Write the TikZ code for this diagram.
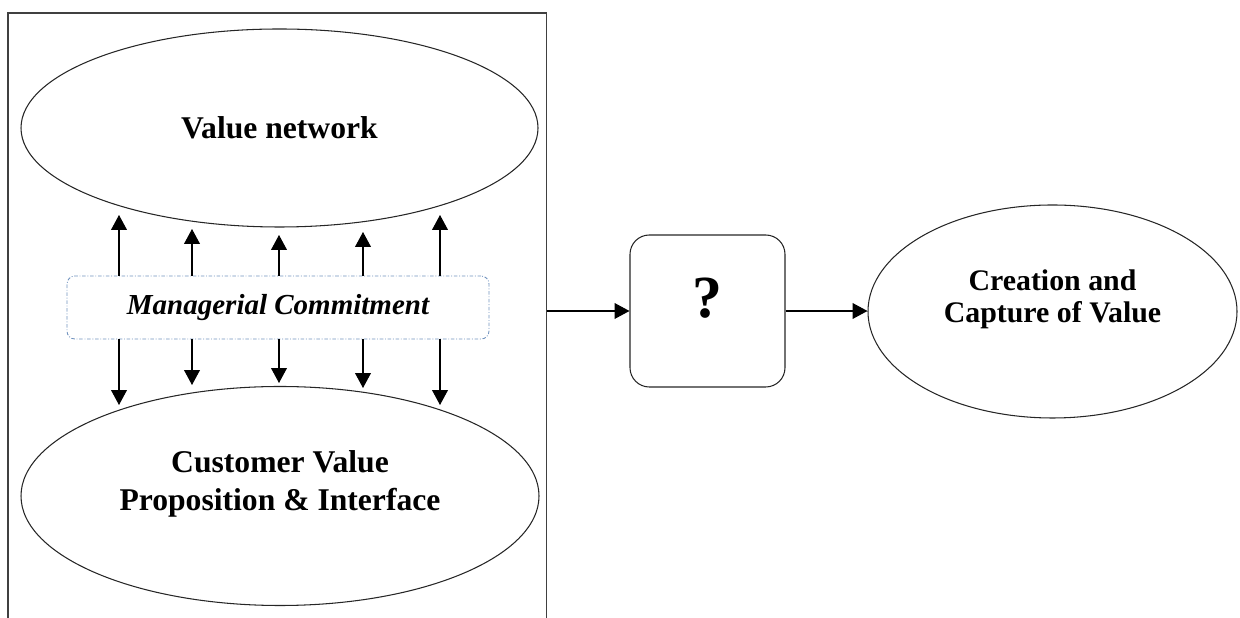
\documentclass[tikz,border=0pt]{standalone}
\usepackage{fontspec}
\setmainfont{Liberation Serif}
\definecolor{mcblue}{RGB}{112,146,190}
\usetikzlibrary{arrows.meta,positioning,shapes.geometric}

\begin{document}
\begin{tikzpicture}[
    bigoval/.style={ellipse, draw=black!85, line width=0.6pt, inner sep=0pt,
                    font=\fontsize{18}{21.6}\selectfont\bfseries, align=center},
    commitbox/.style={rectangle, rounded corners=4.5pt, draw=mcblue, line width=0.5pt,
                      dash pattern=on 2pt off 1pt on 0.5pt off 1pt,
                      minimum width=8.44cm, minimum height=1.26cm,
                      font=\fontsize{16.5}{19}\selectfont\bfseries\itshape},
    qbox/.style={rectangle, rounded corners=11pt, draw=black!85, line width=0.6pt,
                 minimum width=3.1cm, minimum height=3.04cm, inner sep=0pt,
                 font=\fontsize{34}{40}\selectfont\bfseries, text depth=0.54cm},
    flow/.style={-{Triangle[length=8.5pt,width=9pt]}, line width=0.6pt}
  ]
    \useasboundingbox (0,0) rectangle (24.8,12.36);

    % Business model frame (runs off the bottom)
    \node[draw=black!75, line width=0.6pt, inner sep=0pt, anchor=north west,
          minimum width=10.77cm, minimum height=13cm] (frame) at (0.15,12.11) {};

    % Value network / customer side
    \node[bigoval, minimum width=10.34cm, minimum height=3.96cm] (vn) at (5.59,9.80)
      {Value network};
    \node[bigoval, minimum width=10.36cm, minimum height=4.38cm, text depth=0.62cm] (cv) at (5.60,2.44)
      {Customer Value\\Proposition \& Interface};

    % Commitment band
    \node[commitbox] (mc) at (5.56,6.21) {Managerial Commitment};

    % Arrows out of the band
    \foreach \i/\x/\yu/\yd in {1/2.38/8.06/4.26, 2/3.84/7.78/4.66, 3/5.58/7.66/4.70,
                               4/7.26/7.72/4.60, 5/8.80/8.06/4.26} {
      \coordinate (up\i) at (\x,\yu);
      \coordinate (dn\i) at (\x,\yd);
      \draw[flow] (up\i |- mc.north) -- (up\i);
      \draw[flow] (dn\i |- mc.south) -- (dn\i);
    }

    % Unknown link and outcome
    \node[qbox] (q) at (14.15,6.14) {?};
    \node[bigoval, minimum width=7.38cm, minimum height=4.26cm, text depth=0.62cm,
          font=\fontsize{17}{18.2}\selectfont\bfseries] (cc) at (21.05,6.13)
      {Creation and\\Capture of Value};

    \draw[flow] (frame.east |- q.west) -- (q.west);
    \draw[flow] (q.east) -- (q.east -| cc.west);
\end{tikzpicture}
\end{document}
